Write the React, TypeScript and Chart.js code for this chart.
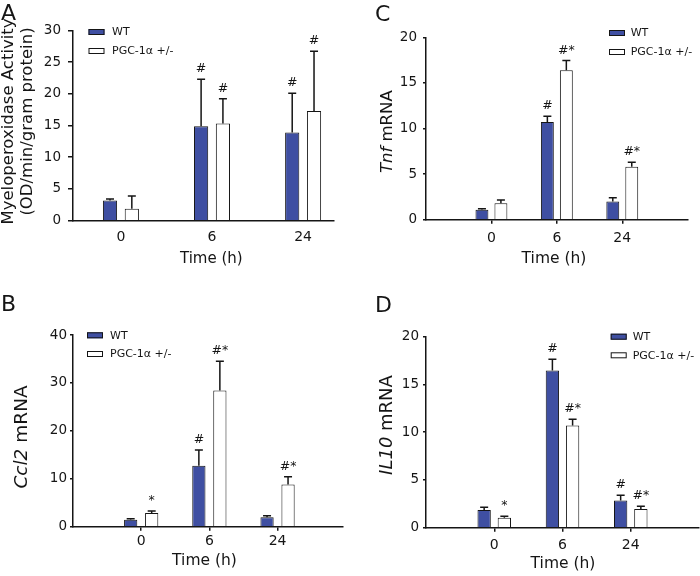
import React, { useEffect, useRef } from 'react';
import { Chart, registerables } from 'chart.js';

Chart.register(...registerables);

// ---------- data ----------
const categories = ['0', '6', '24'];
const seriesNames = ['WT', 'PGC-1α +/-'];

// A: Myeloperoxidase activity
const mpoWT = [3.2, 14.9, 13.9];
const mpoWTErr = [0.2, 7.4, 6.2];
const mpoWTMarks = ['', '#', '#'];
const mpoPGC = [1.9, 15.3, 17.3];
const mpoPGCErr = [2.0, 3.9, 9.4];
const mpoPGCMarks = ['', '#', '#'];

// B: Ccl2 mRNA
const ccl2WT = [1.45, 12.7, 1.95];
const ccl2WTErr = [0.2, 3.3, 0.35];
const ccl2WTMarks = ['', '#', ''];
const ccl2PGC = [2.85, 28.4, 8.8];
const ccl2PGCErr = [0.45, 6.1, 1.6];
const ccl2PGCMarks = ['*', '#*', '#*'];

// C: Tnf mRNA
const tnfWT = [1.1, 10.7, 2.0];
const tnfWTErr = [0.1, 0.65, 0.4];
const tnfWTMarks = ['', '#', ''];
const tnfPGC = [1.8, 16.4, 5.8];
const tnfPGCErr = [0.35, 1.05, 0.5];
const tnfPGCMarks = ['', '#*', '#*'];

// D: IL10 mRNA
const il10WT = [1.85, 16.45, 2.85];
const il10WTErr = [0.28, 1.2, 0.55];
const il10WTMarks = ['', '#', '#'];
const il10PGC = [1.05, 10.7, 1.95];
const il10PGCErr = [0.15, 0.65, 0.3];
const il10PGCMarks = ['*', '#*', '#*'];

const xTitleText = 'Time (h)';

// ---------- styles ----------
const FONT = 'DejaVu Sans';
const INK = '#151515';
const BLUE = '#3f4fa2';
const WHITE = '#ffffff';

type Part = { t: string; i?: boolean };

const panels: any[] = [
  {
    key: 'A', letter: 'A', letterX: 1, letterY: 20,
    left: 0, top: 0, width: 350, height: 290,
    area: { l: 73, r: 334, t: 30.3, b: 220.7 },
    xMin: 0.474, xMax: 3.339, yMax: 30, yStep: 5,
    cp: 0.479, bp: 0.65,
    yTick: { len: 5, pad: 7 }, xTick: { show: false, len: 0, pad: 8.5 },
    wt: mpoWT, wtErr: mpoWTErr, wtMarks: mpoWTMarks,
    pgc: mpoPGC, pgcErr: mpoPGCErr, pgcMarks: mpoPGCMarks,
    yTitle: { size: 16.5, cy: 121.5, lines: [
      { x: 13.3, parts: [{ t: 'Myeloperoxidase Activity' }] as Part[] },
      { x: 31.7, parts: [{ t: '(OD/min/gram protein)' }] as Part[] },
    ] },
    xTitle: { size: 15, cx: 211.3, y: 262.5 },
    legend: { left: 88.5, top: 29, gap: 19, w: 16, h: 6, textX: 112 },
  },
  {
    key: 'B', letter: 'B', letterX: 1, letterY: 20.7,
    left: 0, top: 290, width: 350, height: 286,
    area: { l: 73, r: 343, t: 45, b: 236.7 },
    xMin: 0, xMax: 3.96, yMax: 40, yStep: 10,
    cp: 0.616, bp: 0.63,
    yTick: { len: 3, pad: 3 }, xTick: { show: true, len: 4, pad: 2 },
    wt: ccl2WT, wtErr: ccl2WTErr, wtMarks: ccl2WTMarks,
    pgc: ccl2PGC, pgcErr: ccl2PGCErr, pgcMarks: ccl2PGCMarks,
    yTitle: { size: 18.5, cy: 147, lines: [
      { x: 27.3, parts: [{ t: 'Ccl2', i: true }, { t: ' mRNA' }] as Part[] },
    ] },
    xTitle: { size: 15.5, cx: 204.5, y: 275 },
    legend: { left: 87, top: 42.3, gap: 18.7, w: 16, h: 6, textX: 110 },
  },
  {
    key: 'C', letter: 'C', letterX: 25, letterY: 20.7,
    left: 350, top: 0, width: 350, height: 290,
    area: { l: 76, r: 337.7, t: 37.3, b: 219.7 },
    xMin: 0, xMax: 4, yMax: 20, yStep: 5,
    cp: 0.58, bp: 0.68,
    yTick: { len: 3, pad: 6 }, xTick: { show: true, len: 4, pad: 6.5 },
    wt: tnfWT, wtErr: tnfWTErr, wtMarks: tnfWTMarks,
    pgc: tnfPGC, pgcErr: tnfPGCErr, pgcMarks: tnfPGCMarks,
    yTitle: { size: 16.5, cy: 131.7, lines: [
      { x: 41.7, parts: [{ t: 'Tnf', i: true }, { t: ' mRNA' }] as Part[] },
    ] },
    xTitle: { size: 15.5, cx: 204, y: 263.3 },
    legend: { left: 259, top: 30, gap: 19, w: 16, h: 6, textX: 280.7 },
  },
  {
    key: 'D', letter: 'D', letterX: 25, letterY: 21.7,
    left: 350, top: 290, width: 350, height: 286,
    area: { l: 76, r: 349, t: 46.7, b: 237.7 },
    xMin: 0, xMax: 4, yMax: 20, yStep: 5,
    cp: 0.592, bp: 0.66,
    yTick: { len: 3, pad: 4 }, xTick: { show: true, len: 4, pad: 5.5 },
    wt: il10WT, wtErr: il10WTErr, wtMarks: il10WTMarks,
    pgc: il10PGC, pgcErr: il10PGCErr, pgcMarks: il10PGCMarks,
    yTitle: { size: 18, cy: 135, lines: [
      { x: 41.7, parts: [{ t: 'IL10', i: true }, { t: ' mRNA' }] as Part[] },
    ] },
    xTitle: { size: 15.5, cx: 213, y: 277.7 },
    legend: { left: 260.7, top: 43.7, gap: 18.6, w: 16, h: 6, textX: 282.7 },
  },
];

function fontStr(size: number, italic?: boolean) {
  return `${italic ? 'italic ' : ''}${size}px "${FONT}"`;
}

function drawParts(ctx: CanvasRenderingContext2D, parts: Part[], size: number) {
  const widths = parts.map((p) => {
    ctx.font = fontStr(size, p.i);
    return ctx.measureText(p.t).width;
  });
  const total = widths.reduce((a, b) => a + b, 0);
  let x = -total / 2;
  ctx.textAlign = 'left';
  ctx.textBaseline = 'alphabetic';
  parts.forEach((p, i) => {
    ctx.font = fontStr(size, p.i);
    ctx.fillText(p.t, x, 0);
    x += widths[i];
  });
}

function makeDecorPlugin(p: any) {
  return {
    id: 'panelDecor' + p.key,
    afterDatasetsDraw(chart: any) {
      const ctx: CanvasRenderingContext2D = chart.ctx;
      const yScale = chart.scales.y;
      chart.data.datasets.forEach((ds: any, di: number) => {
        const meta = chart.getDatasetMeta(di);
        meta.data.forEach((bar: any, i: number) => {
          const v = ds.data[i].y;
          const e = ds.errors[i];
          const x = bar.x;
          const yTop = bar.y;
          const yErr = yScale.getPixelForValue(v + e);
          ctx.save();
          ctx.strokeStyle = INK;
          ctx.lineWidth = 1.5;
          ctx.beginPath();
          ctx.moveTo(x, yTop);
          ctx.lineTo(x, yErr);
          ctx.moveTo(x - 4, yErr);
          ctx.lineTo(x + 4, yErr);
          ctx.stroke();
          const mark = ds.marks[i];
          if (mark) {
            ctx.fillStyle = INK;
            ctx.font = fontStr(12.5);
            ctx.textAlign = 'center';
            ctx.textBaseline = 'alphabetic';
            ctx.fillText(mark, x, yErr - 7);
          }
          ctx.restore();
        });
      });
    },
    afterDraw(chart: any) {
      const ctx: CanvasRenderingContext2D = chart.ctx;
      ctx.save();
      ctx.fillStyle = INK;
      // panel letter
      ctx.font = fontStr(22);
      ctx.textAlign = 'left';
      ctx.textBaseline = 'alphabetic';
      ctx.fillText(p.letter, p.letterX, p.letterY);
      // y title (rotated)
      p.yTitle.lines.forEach((ln: any) => {
        ctx.save();
        ctx.translate(ln.x, p.yTitle.cy);
        ctx.rotate(-Math.PI / 2);
        drawParts(ctx, ln.parts, p.yTitle.size);
        ctx.restore();
      });
      // x title
      ctx.save();
      ctx.translate(p.xTitle.cx, p.xTitle.y);
      drawParts(ctx, [{ t: xTitleText }], p.xTitle.size);
      ctx.restore();
      // legend
      const lg = p.legend;
      chart.data.datasets.forEach((ds: any, i: number) => {
        const top = lg.top + i * lg.gap;
        ctx.fillStyle = ds.backgroundColor;
        ctx.fillRect(lg.left, top, lg.w, lg.h);
        ctx.strokeStyle = INK;
        ctx.lineWidth = 1;
        ctx.strokeRect(lg.left + 0.5, top + 0.5, lg.w - 1, lg.h - 1);
        ctx.fillStyle = INK;
        ctx.font = fontStr(11);
        ctx.textAlign = 'left';
        ctx.textBaseline = 'middle';
        ctx.fillText(ds.label, lg.textX, top + lg.h / 2 + 0.5);
      });
      ctx.restore();
    },
  };
}

function buildConfig(p: any): any {
  const mk = (vals: number[]) => vals.map((v, i) => ({ x: i + 1, y: v }));
  return {
    type: 'bar',
    data: {
      datasets: [
        {
          label: seriesNames[0], data: mk(p.wt), errors: p.wtErr, marks: p.wtMarks,
          backgroundColor: BLUE, borderColor: INK, borderWidth: 1,
          categoryPercentage: p.cp, barPercentage: p.bp,
        },
        {
          label: seriesNames[1], data: mk(p.pgc), errors: p.pgcErr, marks: p.pgcMarks,
          backgroundColor: WHITE, borderColor: INK, borderWidth: 1,
          categoryPercentage: p.cp, barPercentage: p.bp,
        },
      ],
    },
    options: {
      responsive: false,
      animation: false,
      events: [],
      layout: { padding: { left: 0, top: p.area.t, right: p.width - p.area.r, bottom: 0 } },
      plugins: { legend: { display: false }, tooltip: { enabled: false }, title: { display: false } },
      scales: {
        x: {
          type: 'linear',
          min: p.xMin,
          max: p.xMax,
          offset: false,
          afterBuildTicks: (s: any) => {
            s.ticks = categories.map((_, i) => ({ value: i + 1 }));
          },
          afterFit: (s: any) => {
            s.height = p.height - p.area.b;
          },
          ticks: {
            autoSkip: false,
            maxRotation: 0,
            color: INK,
            font: { family: FONT, size: 14 },
            padding: p.xTick.pad,
            callback: (v: number) => categories[Math.round(v) - 1] ?? '',
          },
          grid: {
            offset: false,
            drawOnChartArea: false,
            drawTicks: p.xTick.show,
            tickLength: p.xTick.len,
            color: INK,
            lineWidth: 1.5,
          },
          border: { display: true, color: INK, width: 1.5 },
          title: { display: false },
        },
        y: {
          min: 0,
          max: p.yMax,
          afterFit: (s: any) => {
            s.width = p.area.l;
          },
          ticks: {
            stepSize: p.yStep,
            color: INK,
            font: { family: FONT, size: 13.5 },
            padding: p.yTick.pad,
          },
          grid: {
            drawOnChartArea: false,
            drawTicks: true,
            tickLength: p.yTick.len,
            color: INK,
            lineWidth: 1.5,
          },
          border: { display: true, color: INK, width: 1.5 },
          title: { display: false },
        },
      },
    },
    plugins: [makeDecorPlugin(p)],
  };
}

function PanelChart({ p }: { p: any }) {
  const ref = useRef<HTMLCanvasElement | null>(null);
  useEffect(() => {
    if (!ref.current) return;
    const chart = new Chart(ref.current, buildConfig(p));
    return () => chart.destroy();
  }, [p]);
  return (
    <canvas
      ref={ref}
      width={p.width}
      height={p.height}
      style={{ position: 'absolute', left: p.left, top: p.top, width: p.width, height: p.height }}
    />
  );
}

export default function App() {
  return (
    <div style={{ position: 'absolute', left: 0, top: 0, width: 700, height: 576, background: '#fff', overflow: 'hidden' }}>
      {panels.map((p) => (
        <PanelChart key={p.key} p={p} />
      ))}
    </div>
  );
}
